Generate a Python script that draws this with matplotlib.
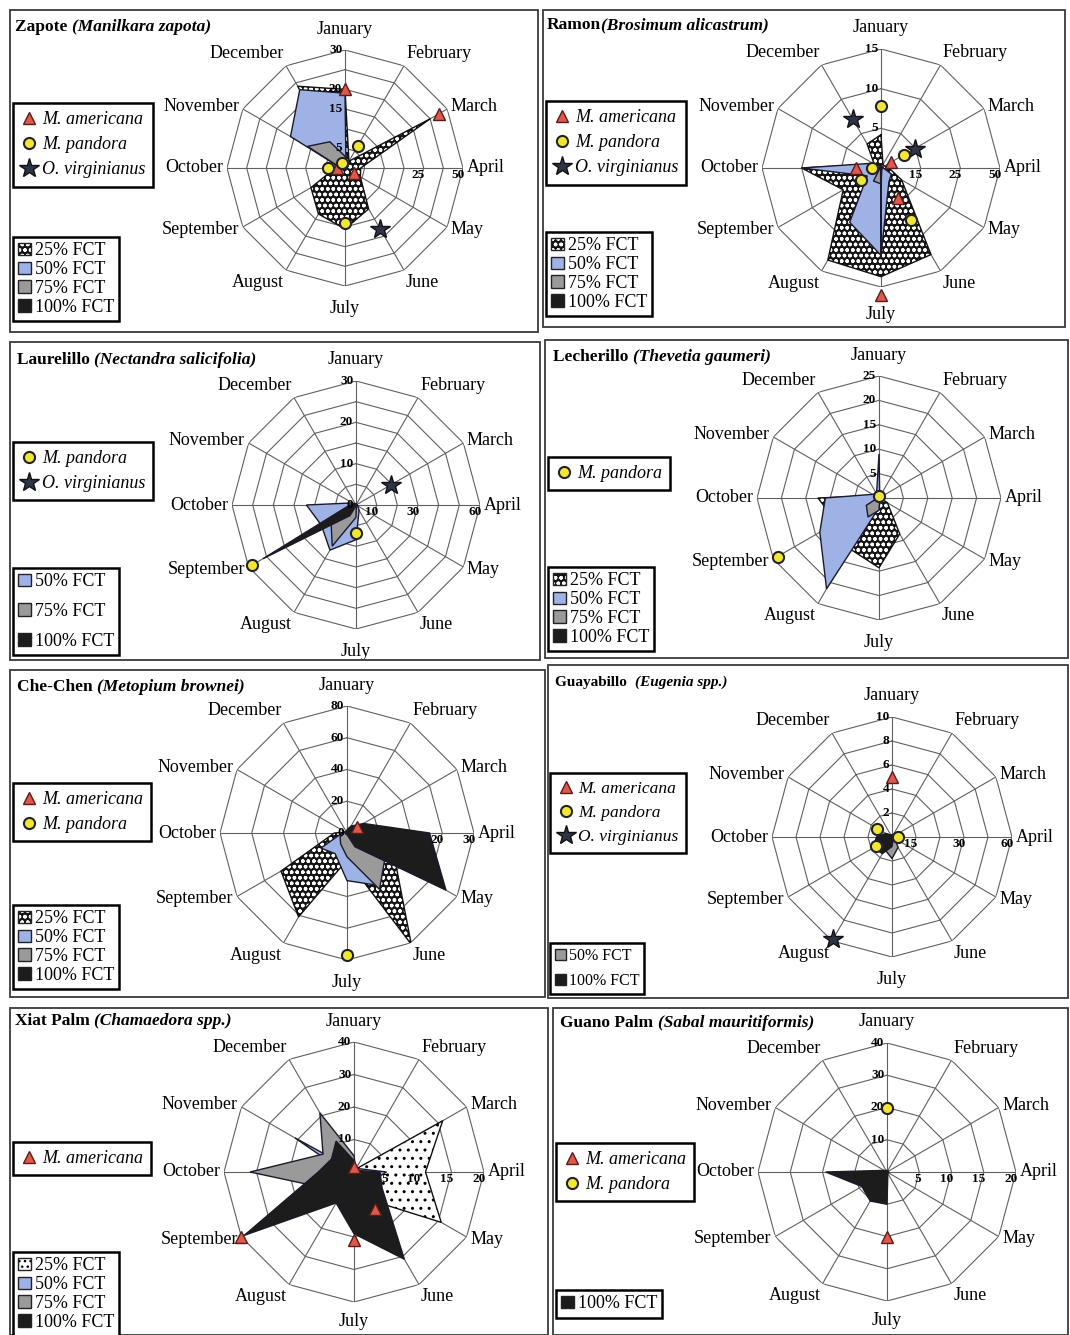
import numpy as np
import matplotlib.pyplot as plt
from matplotlib.lines import Line2D
from matplotlib.patches import Patch, Rectangle

W, H = 1070, 1335
nan = np.nan

months = ['January', 'February', 'March', 'April', 'May', 'June', 'July',
          'August', 'September', 'October', 'November', 'December']

# ---- Zapote ----
zapote_americana = [20, nan, 27.5, nan, 2.5, nan, nan, nan, nan, 2, nan, nan]
zapote_pandora = [nan, 6.4, nan, nan, nan, nan, 14, nan, nan, 4.4, nan, 1.5]
zapote_virginianus = [nan, nan, nan, nan, nan, 18, nan, nan, nan, nan, nan, nan]
zapote_fct25 = [20, 2, 25, 4, 4.5, 12, 15.5, 13.5, 10, 2.5, 3, 24]
zapote_fct50 = [19, 0.5, 0.5, 0.5, 0.5, 0.5, 0.5, 0.5, 0.5, 1, 16, 23]
zapote_fct75 = [3, 0.3, 0.3, 0.3, 0.3, 0.3, 0.3, 0.3, 0.3, 1, 11, 7.7]
zapote_fct100 = [1, 0.5, 1, 0.5, 0.5, 0.5, 0.5, 0.5, 0.5, 0.5, 0.5, 0.5]
zapote_rticks = [5, 15, 20, 30]
zapote_fct_ticks = ['', '', '', '25', '', '50']

# ---- Ramon ----
ramon_americana = [nan, nan, 1.4, nan, nan, 4.4, 16, nan, nan, 3.1, nan, nan]
ramon_pandora = [7.8, nan, 3.3, nan, nan, 7.6, nan, nan, 2.9, 1.1, nan, nan]
ramon_virginianus = [nan, nan, 4.9, nan, nan, nan, nan, nan, nan, nan, nan, 7.1]
ramon_fct25 = [4.2, 0.5, 0.5, 1, 3, 12.6, 13.7, 13.4, 5.5, 10, 1, 3.5]
ramon_fct50 = [0.3, 0.3, 0.3, 0.3, 1.5, 2, 11, 7.9, 2, 10, 1.2, 0.3]
ramon_fct75 = [0.2, 0.2, 0.2, 0.2, 0.2, 0.2, 2, 1.9, 0.2, 0.2, 0.2, 0.2]
ramon_fct100 = [0.1, 0.1, 0.1, 0.1, 0.1, 0.1, 11.5, 0.1, 0.1, 0.1, 0.1, 0.1]
ramon_rticks = [5, 10, 15]
ramon_fct_ticks = ['15', '25', '50']

# ---- Laurelillo ----
laurel_pandora = [nan, nan, nan, nan, nan, nan, 6.8, nan, 29, nan, nan, nan]
laurel_virginianus = [nan, nan, 9.7, nan, nan, nan, nan, nan, nan, nan, nan, nan]
laurel_fct50 = [0.3, 0.2, 0.2, 0.2, 0.5, 1.5, 8.4, 12.6, 9.7, 12, 1, 0.3]
laurel_fct75 = [0.2, 0.2, 0.2, 0.2, 0.2, 0.2, 3, 11.5, 7, 0.2, 0.2, 0.2]
laurel_fct100 = [0.2, 0.2, 0.2, 0.2, 0.2, 0.2, 0.2, 3, 26, 1.5, 0.2, 0.2]
laurel_rticks = [0, 10, 20, 30]
laurel_fct_ticks = ['10', '', '30', '', '', '60']

# ---- Lecherillo ----
lech_pandora = [0.5, nan, nan, nan, nan, nan, nan, nan, 24, nan, nan, nan]
lech_fct25 = [0.3, 0.3, 0.3, 0.3, 2, 8.5, 14.3, 12, 10, 12.5, 1, 0.3]
lech_fct50 = [9, 0.3, 0.3, 0.3, 0.3, 0.5, 2, 21.5, 14, 11, 1.5, 1]
lech_fct75 = [0.3, 0.3, 0.3, 0.3, 0.3, 0.3, 2.5, 4.5, 3, 0.3, 0.3, 0.3]
lech_fct100 = [0.3] * 12
lech_rticks = [5, 10, 15, 20, 25]
lech_fct_ticks = []

# ---- Che-Chen ----
chechen_americana = [nan, nan, 7, nan, nan, nan, nan, nan, nan, nan, nan, nan]
chechen_pandora = [nan, nan, nan, nan, nan, nan, 77, nan, nan, nan, nan, nan]
chechen_fct25 = [1, 1, 2, 5, 35, 81, 17, 61, 48, 8, 1, 1]
chechen_fct50 = [1, 1, 1, 2, 5, 38, 30, 15, 19, 3, 1, 1]
chechen_fct75 = [1, 2, 5, 47, 28, 41, 15, 8, 5, 2, 1, 1]
chechen_fct100 = [2, 5, 12, 52, 72, 10, 1, 1, 1, 1, 1, 1]
chechen_rticks = [0, 20, 40, 60, 80]
chechen_fct_ticks = ['', '', '20', '30']

# ---- Guayabillo ----
guaya_americana = [5, nan, nan, nan, nan, nan, nan, nan, nan, nan, nan, nan]
guaya_pandora = [nan, nan, nan, 0.5, nan, nan, nan, nan, 1.5, nan, 1.4, nan]
guaya_virginianus = [nan, nan, nan, nan, nan, nan, nan, 9.8, nan, nan, nan, nan]
guaya_fct50 = [0.1, 0.1, 0.1, 0.1, 0.3, 1, 1.8, 1.2, 0.2, 0.1, 0.1, 0.1]
guaya_fct100 = [0.2, 0.2, 0.2, 0.2, 0.2, 0.2, 0.8, 1.6, 1.8, 1.3, 0.6, 0.2]
guaya_rticks = [2, 4, 6, 8, 10]
guaya_fct_ticks = ['15', '', '30', '', '60']

# ---- Xiat Palm ----
xiat_americana = [1.5, nan, nan, nan, nan, 13, 21, nan, 40, nan, nan, nan]
xiat_fct25 = [0.5, 1, 31.5, 22, 31, 10, 0.5, 0.5, 0.5, 0.5, 0.5, 0.5]
xiat_fct50 = [1, 1, 2, 10, 6, 1, 1, 1, 1, 3, 21, 1]
xiat_fct75 = [5, 1, 1, 1, 1, 1, 1, 1, 10, 32, 11, 21]
xiat_fct100 = [3.5, 1, 1, 8, 10, 31, 19, 11, 39, 11, 8, 11]
xiat_rticks = [10, 20, 30, 40]
xiat_fct_ticks = ['5', '10', '15', '20']

# ---- Guano Palm ----
guano_americana = [nan, nan, nan, nan, nan, nan, 20, nan, nan, nan, nan, nan]
guano_pandora = [20, nan, nan, nan, nan, nan, nan, nan, nan, nan, nan, nan]
guano_fct100 = [0.5, 0.5, 0.5, 0.5, 0.5, 0.5, 10, 10.4, 9, 19, 1, 0.5]
guano_rticks = [10, 20, 30, 40]
guano_fct_ticks = ['5', '10', '15', '20']

plt.rcParams['font.family'] = 'Liberation Serif'
plt.rcParams['hatch.linewidth'] = 1.0

fig = plt.figure(figsize=(W / 100, H / 100), dpi=100)
renderer = fig.canvas.get_renderer()

theta = np.arange(12) * np.pi / 6
closed = np.append(theta, theta[0])

bird_style = {
    'M. americana': dict(marker='^', mfc='#e0574c', mec='#5a1c18', ms=9, mew=1),
    'M. pandora': dict(marker='o', mfc='#f2e634', mec='#222222', ms=8, mew=1.5),
    'O. virginianus': dict(marker='*', mfc='#2d3446', mec='#111111', ms=15, mew=1),
}
fct_color = {50: '#9fb2e6', 75: '#9a9a9a', 100: '#1c1c1c'}


def fr(x, y, w, h):
    return [x / W, 1 - (y + h) / H, w / W, h / H]


def close(v):
    v = np.asarray(v, float)
    return np.append(v, v[0])


def draw_fct(ax, level, vals, color=None, light=False):
    r = close(vals)
    if level == 25:
        if light:
            ax.fill(closed, r, fc='white', ec='none', zorder=2)
            ax.fill(closed, r, fc='none', ec='black', hatch='..', lw=0, zorder=2)
        else:
            ax.fill(closed, r, fc='#151515', ec='none', zorder=2)
            ax.fill(closed, r, fc='none', ec='white', hatch='ooo', lw=0, zorder=2)
        ax.plot(closed, r, color='#111111', lw=1, zorder=2)
    else:
        c = color or fct_color[level]
        ax.fill(closed, r, fc=c, ec='#1a1a2a', lw=1, zorder=2)


def fct_handle(level, color=None, light=False):
    if level == 25:
        if light:
            return (Patch(fc='white', ec='none'), Patch(fc='none', ec='black', hatch='...', lw=0),
                    Patch(fc='none', ec='#222222', lw=1))
        return (Patch(fc='#151515', ec='none'), Patch(fc='none', ec='white', hatch='ooo', lw=0),
                Patch(fc='none', ec='#222222', lw=1))
    return Patch(fc=color or fct_color[level], ec='#222222', lw=1)


def panel(box, title, tpos, center, R, rmax, step, rticks, fct_ticks, fct, birds,
          sp_leg, fct_leg, title_fs=12.5, fct_fs=13, fct_sp=0.1, sp_fs=13, colors=None,
          light25=False, bottom_off=9):
    colors = colors or {}
    x, y, w, h = box
    fig.add_artist(Rectangle((x / W, 1 - (y + h) / H), w / W, h / H, transform=fig.transFigure,
                             fill=False, ec='#3a3a3a', lw=1.3))
    # title: common name bold, latin name bold italic
    t = fig.text(tpos[0] / W, 1 - tpos[1] / H, title[0], fontsize=title_fs, fontweight='bold', va='center')
    bb = t.get_window_extent(renderer)
    fig.text(bb.x1 / W, 1 - tpos[1] / H, title[1], fontsize=title_fs, fontweight='bold',
             style='italic', va='center')

    cx, cy = center
    ax = fig.add_axes(fr(cx - R, cy - R, 2 * R, 2 * R), projection='polar')
    ax.set_theta_zero_location('N')
    ax.set_theta_direction(-1)
    ax.set_ylim(0, rmax)
    ax.set_axis_off()
    rings = np.arange(step, rmax + step / 2, step)
    for r in rings:
        ax.plot(closed, [r] * 13, color='#606060', lw=0.8, zorder=1)
    for tt in theta:
        ax.plot([tt, tt], [0, rmax], color='#606060', lw=0.8, zorder=1)
    for tt, m in zip(theta, months):
        s, c = np.sin(tt), np.cos(tt)
        ha = 'left' if s > 0.1 else ('right' if s < -0.1 else 'center')
        va = 'bottom' if c > 0.8 else ('top' if c < -0.8 else 'center')
        if c > 0.95:
            off = 9
        elif c < -0.95:
            off = bottom_off
        else:
            off = 3
        ax.annotate(m, xy=(tt, rmax), xytext=(s * off, c * off), textcoords='offset points',
                    ha=ha, va=va, fontsize=13, annotation_clip=False)

    for level, vals in fct.items():
        draw_fct(ax, level, vals, colors.get(level), light25)

    for v in rticks:
        ax.annotate(str(v), xy=(0, v), xytext=(-2, 0), textcoords='offset points',
                    ha='right', va='center', fontsize=9.5, fontweight='bold', zorder=5)
    for r, lab in zip(rings, fct_ticks):
        if lab:
            ax.annotate(lab, xy=(np.pi / 2, r), xytext=(1, -1), textcoords='offset points',
                        ha='right', va='top', fontsize=9.5, fontweight='bold', zorder=5)

    for name, vals in birds.items():
        ax.plot(theta, vals, ls='none', zorder=6, clip_on=False, **bird_style[name])

    # species legend
    handles = [Line2D([], [], ls='none', **bird_style[n]) for n in birds]
    lg = fig.legend(handles, list(birds), loc='upper left', bbox_to_anchor=(sp_leg[0] / W, 1 - sp_leg[1] / H),
                    frameon=True, fancybox=False, edgecolor='black', framealpha=1,
                    prop=dict(family='Liberation Serif', style='italic', size=sp_fs),
                    handlelength=0.9, handletextpad=0.25, borderpad=0.45, labelspacing=0.45,
                    borderaxespad=0)
    lg.get_frame().set_linewidth(1.8)

    # FCT legend
    fh = [fct_handle(lv, colors.get(lv), light25) for lv in fct]
    fl = ['%d%% FCT' % lv for lv in fct]
    lg2 = fig.legend(fh, fl, loc='upper left', bbox_to_anchor=(fct_leg[0] / W, 1 - fct_leg[1] / H),
                     frameon=True, fancybox=False, edgecolor='black', framealpha=1,
                     prop=dict(family='Liberation Serif', size=fct_fs),
                     handlelength=0.7, handleheight=0.7, handletextpad=0.2, borderpad=0.3,
                     labelspacing=fct_sp, borderaxespad=0)
    lg2.get_frame().set_linewidth(1.8)


panel((10, 10, 528, 322), ('Zapote ', '(Manilkara zapota)'), (15, 27), (345, 168), 118, 30, 5,
      zapote_rticks, zapote_fct_ticks,
      {25: zapote_fct25, 50: zapote_fct50, 75: zapote_fct75, 100: zapote_fct100},
      {'M. americana': zapote_americana, 'M. pandora': zapote_pandora,
       'O. virginianus': zapote_virginianus},
      (13, 103), (13, 237), bottom_off=10)

panel((543, 10, 522, 317), ('Ramon', '(Brosimum alicastrum)'), (547, 25), (881, 168), 119, 15, 5,
      ramon_rticks, ramon_fct_ticks,
      {25: ramon_fct25, 50: ramon_fct50, 75: ramon_fct75, 100: ramon_fct100},
      {'M. americana': ramon_americana, 'M. pandora': ramon_pandora,
       'O. virginianus': ramon_virginianus},
      (546, 101), (546, 232), bottom_off=14)

panel((10, 342, 530, 318), ('Laurelillo ', '(Nectandra salicifolia)'), (17, 360), (356, 505), 124, 30, 5,
      laurel_rticks, laurel_fct_ticks,
      {50: laurel_fct50, 75: laurel_fct75, 100: laurel_fct100},
      {'M. pandora': laurel_pandora, 'O. virginianus': laurel_virginianus},
      (13, 442), (13, 568), fct_sp=0.7, bottom_off=10)

panel((545, 340, 523, 318), ('Lecherillo ', '(Thevetia gaumeri)'), (553, 357), (879, 498), 122, 25, 5,
      lech_rticks, lech_fct_ticks,
      {25: lech_fct25, 50: lech_fct50, 75: lech_fct75, 100: lech_fct100},
      {'M. pandora': lech_pandora},
      (548, 457), (548, 567), bottom_off=10)

panel((10, 670, 535, 327), ('Che-Chen ', '(Metopium brownei)'), (17, 687), (347, 833), 127, 80, 20,
      chechen_rticks, chechen_fct_ticks,
      {25: chechen_fct25, 50: chechen_fct50, 75: chechen_fct75, 100: chechen_fct100},
      {'M. americana': chechen_americana, 'M. pandora': chechen_pandora},
      (13, 783), (13, 905), bottom_off=10)

panel((548, 665, 520, 333), ('Guayabillo  ', '(Eugenia spp.)'), (555, 682), (892, 837), 120, 10, 2,
      guaya_rticks, guaya_fct_ticks,
      {50: guaya_fct50, 100: guaya_fct100},
      {'M. americana': guaya_americana, 'M. pandora': guaya_pandora,
       'O. virginianus': guaya_virginianus},
      (550, 773), (550, 943), title_fs=11, fct_fs=11.5, fct_sp=0.6, sp_fs=12.5,
      colors={50: '#9a9a9a'}, bottom_off=10)

panel((10, 1008, 538, 327), ('Xiat Palm ', '(Chamaedora spp.)'), (15, 1021), (354, 1172), 130, 40, 10,
      xiat_rticks, xiat_fct_ticks,
      {25: xiat_fct25, 50: xiat_fct50, 75: xiat_fct75, 100: xiat_fct100},
      {'M. americana': xiat_americana},
      (13, 1142), (13, 1252), light25=True, bottom_off=8)

panel((553, 1008, 515, 327), ('Guano Palm ', '(Sabal mauritiformis)'), (560, 1023), (887, 1172), 129, 40, 10,
      guano_rticks, guano_fct_ticks,
      {100: guano_fct100},
      {'M. americana': guano_americana, 'M. pandora': guano_pandora},
      (556, 1143), (556, 1290), bottom_off=8)

fig.savefig('out.png', dpi=100)
